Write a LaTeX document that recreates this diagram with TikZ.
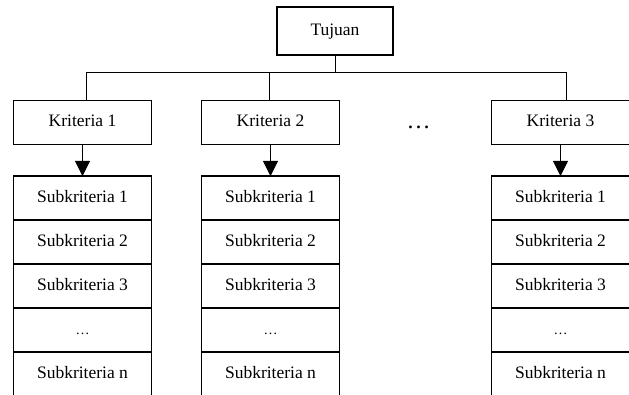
\documentclass[tikz,border=0pt]{standalone}
\usepackage{fontspec}
\setmainfont{Liberation Serif}
\usepackage{tikz}
\usetikzlibrary{arrows.meta,positioning}

\tikzset{
  box/.style={draw, line width=1.4pt, minimum width=138pt, minimum height=44pt,
    inner sep=0pt, outer sep=0pt, font=\fontsize{17.5}{21}\selectfont,
    text height=12pt, text depth=3pt},
  line/.style={line width=0.9pt},
}

\begin{document}
\begin{tikzpicture}[x=1pt, y=-1pt, >={Triangle[length=15pt,width=15pt]}]
	\useasboundingbox (0,0) rectangle (629,395);
	\node [box, minimum width=116pt, minimum height=48pt] (goal) at (335,31) {Tujuan};
	\coordinate (bus) at (335,72);
	\node [box] (k1) at (82.5,122.5) {Kriteria 1};
	\node [box] (k2) at (270.5,122.5) {Kriteria 2};
	\node [box] (k3) at (560.5,122.5) {Kriteria 3};
	\node [font=\fontsize{24}{28}\selectfont] (more) at (418.5,127) {\dots};
	% kolom subkriteria
	\node [box] (s11) at (82.5,198) {Subkriteria 1};
	\node [box, below=0pt of s11] (s12) {Subkriteria 2};
	\node [box, below=0pt of s12] (s13) {Subkriteria 3};
	\node [box, below=0pt of s13, font=\fontsize{14}{17}\selectfont] (s14) {\dots};
	\node [box, below=0pt of s14] (s1n) {Subkriteria n};
	\node [box] (s21) at (270.5,198) {Subkriteria 1};
	\node [box, below=0pt of s21] (s22) {Subkriteria 2};
	\node [box, below=0pt of s22] (s23) {Subkriteria 3};
	\node [box, below=0pt of s23, font=\fontsize{14}{17}\selectfont] (s24) {\dots};
	\node [box, below=0pt of s24] (s2n) {Subkriteria n};
	\node [box] (s31) at (560.5,198) {Subkriteria 1};
	\node [box, below=0pt of s31] (s32) {Subkriteria 2};
	\node [box, below=0pt of s32] (s33) {Subkriteria 3};
	\node [box, below=0pt of s33, font=\fontsize{14}{17}\selectfont] (s34) {\dots};
	\node [box, below=0pt of s34] (s3n) {Subkriteria n};
	\draw [line] (goal) -- (bus);
	\draw [line] (bus) -| ([xshift=3.5pt]k1.north);
	\draw [line] (bus) -| ([xshift=-1.5pt]k2.north);
	\draw [line] (bus) -| ([xshift=5.5pt]k3.north);
	\path [line, ->] (k1) edge (s11);
	\path [line, ->] (k2) edge (s21);
	\path [line, ->] (k3) edge (s31);
\end{tikzpicture}
\end{document}
